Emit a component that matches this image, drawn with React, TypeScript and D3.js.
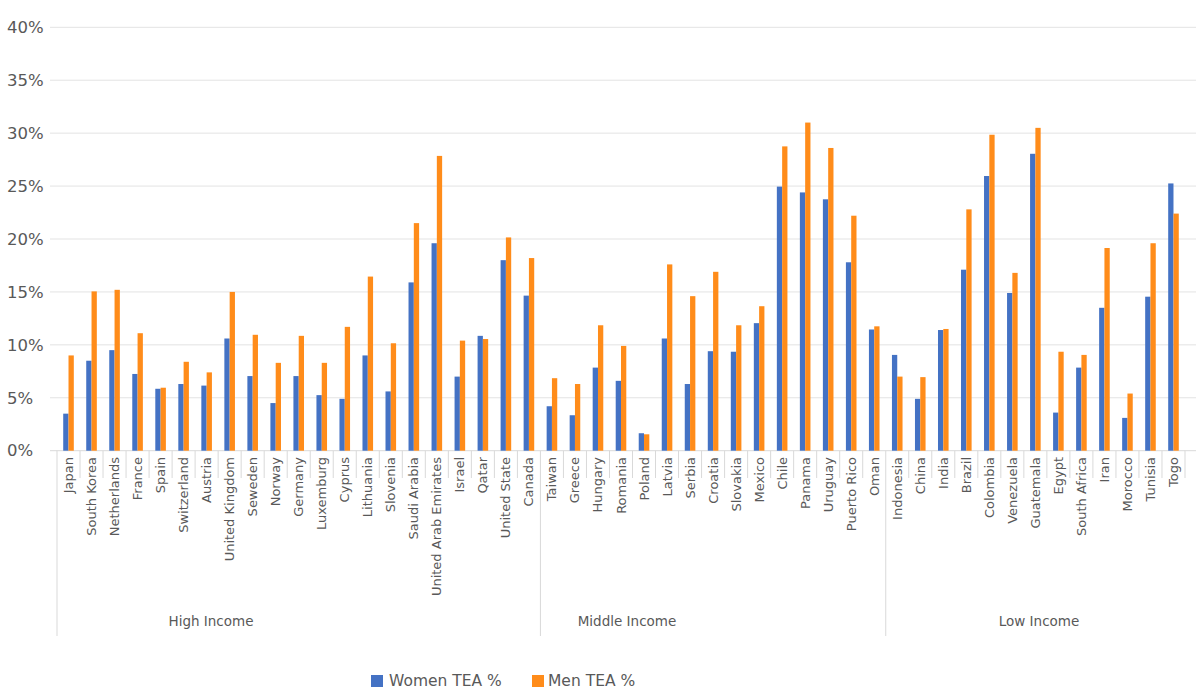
import * as d3 from 'd3';

const highIncome = ['Japan', 'South Korea', 'Netherlands', 'France', 'Spain', 'Switzerland', 'Austria', 'United Kingdom', 'Seweden', 'Norway', 'Germany', 'Luxemburg', 'Cyprus', 'Lithuania', 'Slovenia', 'Saudi Arabia', 'United Arab Emirates', 'Israel', 'Qatar', 'United State', 'Canada'];
const middleIncome = ['Taiwan', 'Greece', 'Hungary', 'Romania', 'Poland', 'Latvia', 'Serbia', 'Croatia', 'Slovakia', 'Mexico', 'Chile', 'Panama', 'Uruguay', 'Puerto Rico', 'Oman'];
const lowIncome = ['Indonesia', 'China', 'India', 'Brazil', 'Colombia', 'Venezuela', 'Guatemala', 'Egypt', 'South Africa', 'Iran', 'Morocco', 'Tunisia', 'Togo'];

const groups = [
  { name: 'High Income', countries: highIncome },
  { name: 'Middle Income', countries: middleIncome },
  { name: 'Low Income', countries: lowIncome },
];

const womenTEA = [
  3.5, 8.5, 9.5, 7.25, 5.85, 6.3, 6.15, 10.6, 7.05, 4.5, 7.05, 5.25, 4.9, 9.0, 5.6, 15.9, 19.6, 7.0, 10.85, 18.0, 14.65,
  4.2, 3.35, 7.85, 6.6, 1.65, 10.6, 6.3, 9.4, 9.35, 12.05, 24.95, 24.4, 23.75, 17.8, 11.45,
  9.05, 4.9, 11.4, 17.1, 25.95, 14.9, 28.05, 3.6, 7.85, 13.5, 3.1, 14.55, 25.25,
];
const menTEA = [
  9.0, 15.05, 15.2, 11.1, 5.95, 8.4, 7.4, 15.0, 10.95, 8.3, 10.85, 8.3, 11.7, 16.45, 10.15, 21.5, 27.85, 10.4, 10.55, 20.15, 18.2,
  6.85, 6.3, 11.85, 9.9, 1.55, 17.6, 14.6, 16.9, 11.85, 13.65, 28.75, 31.0, 28.6, 22.2, 11.75,
  7.0, 6.95, 11.5, 22.8, 29.85, 16.8, 30.5, 9.35, 9.05, 19.15, 5.4, 19.6, 22.4,
];

const yTicks = [0, 5, 10, 15, 20, 25, 30, 35, 40];
const groupLabelCenters = [211, 627, 1039];

const FONT = "'DejaVu Sans', sans-serif";
const TEXT = '#595959';
const GRID = '#e3e3e3';
const BLUE = '#4472C4';
const ORANGE = '#FF8C1A';

export default function App() {
  const width = 1200;
  const height = 700;
  const countries = groups.flatMap(g => g.countries);

  const x = d3.scaleBand<string>().domain(countries).range([57, 1185]).paddingInner(0).paddingOuter(0);
  const bw = x.bandwidth();
  const barW = bw * 0.23;
  const y = d3.scaleLinear().domain([0, 40]).range([450.7, 27.3]);

  const groupStarts: number[] = [];
  let acc = 0;
  groups.forEach(g => { groupStarts.push(acc); acc += g.countries.length; });

  return (
    <svg width={width} height={height} style={{ position: 'absolute', left: 0, top: 0, background: '#fff' }} fontFamily={FONT}>
      {yTicks.map(t => (
        <g key={t}>
          <line x1={50} x2={1196} y1={y(t)} y2={y(t)} stroke={t === 0 ? '#d9d9d9' : GRID} strokeWidth={1} />
          <text x={7} y={y(t)} dy="0.35em" fontSize={16.5} fill={TEXT}>{t}%</text>
        </g>
      ))}

      {countries.map((c, i) => {
        const bx = x(c)!;
        const cx = bx + bw / 2;
        return (
          <g key={c}>
            <rect x={cx - barW} y={y(womenTEA[i])} width={barW} height={y(0) - y(womenTEA[i])} fill={BLUE} />
            <rect x={cx} y={y(menTEA[i])} width={barW} height={y(0) - y(menTEA[i])} fill={ORANGE} />
            <text
              transform={`translate(${cx + 4.5},${457}) rotate(-90)`}
              textAnchor="end"
              fontSize={13}
              fill={TEXT}
            >{c}</text>
          </g>
        );
      })}

      {d3.range(countries.length + 1).map(i => {
        const px = i < countries.length ? x(countries[i])! : x(countries[countries.length - 1])! + bw;
        const long = groupStarts.includes(i);
        return <line key={'t' + i} x1={px} x2={px} y1={450.7} y2={long ? 636 : 478} stroke="#d9d9d9" strokeWidth={1} />;
      })}

      {groups.map((g, i) => (
        <text key={g.name} x={groupLabelCenters[i]} y={626} textAnchor="middle" fontSize={13.5} fill={TEXT}>{g.name}</text>
      ))}

      <rect x={371} y={675} width={12} height={12} fill={BLUE} />
      <text x={389} y={681} dy="0.35em" fontSize={15.5} fill={TEXT}>Women TEA %</text>
      <rect x={532} y={675} width={12} height={12} fill={ORANGE} />
      <text x={548} y={681} dy="0.35em" fontSize={15.5} fill={TEXT}>Men TEA %</text>
    </svg>
  );
}
